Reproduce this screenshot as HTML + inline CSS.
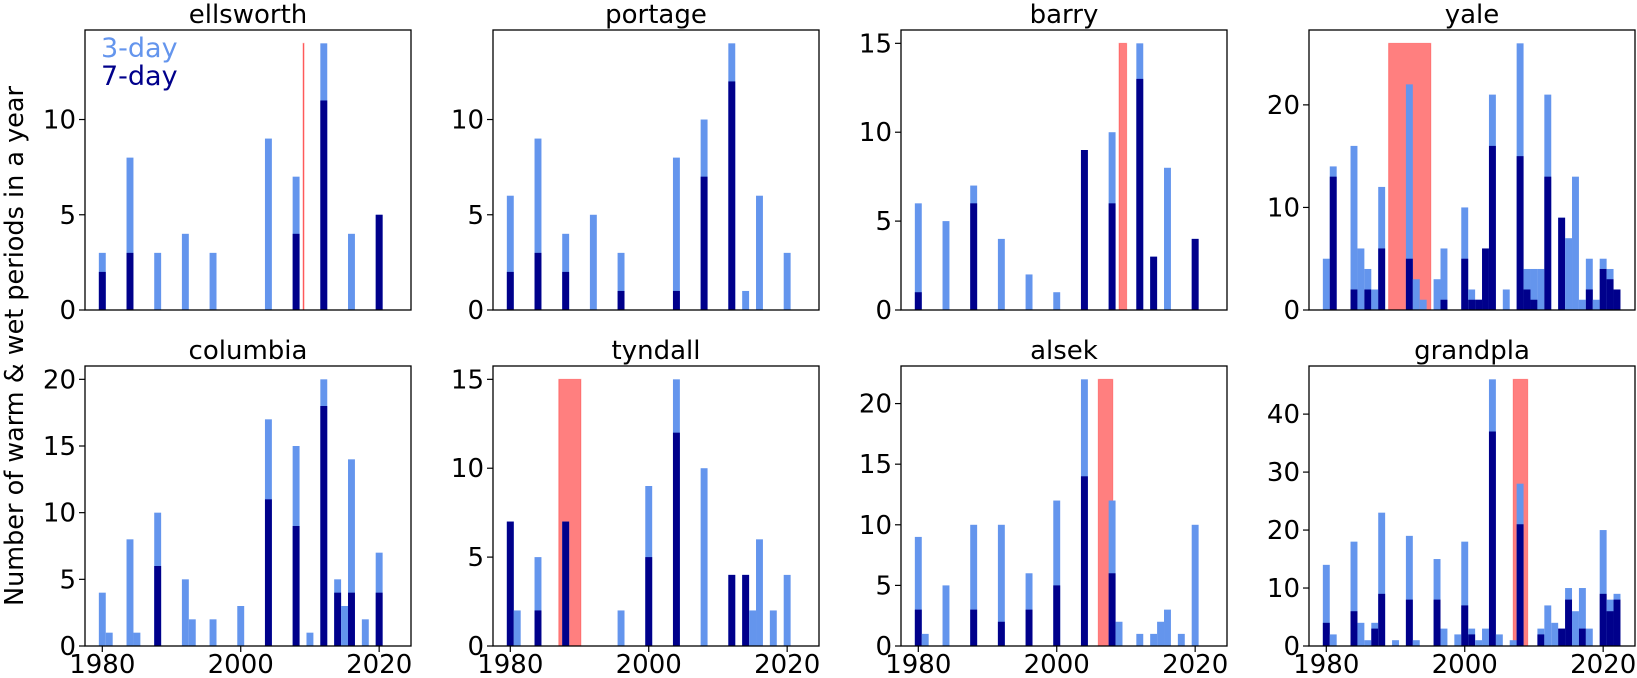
<!DOCTYPE html>
<html><head><meta charset="utf-8"><style>
html,body{margin:0;padding:0;background:#fff;}
svg{display:block;font-family:"DejaVu Sans","Liberation Sans",sans-serif;}
</style></head><body>
<svg id="fig" width="1637" height="678" viewBox="0 0 1637 678" xmlns="http://www.w3.org/2000/svg">
<text transform="translate(23,346) rotate(-90)" text-anchor="middle" font-size="25.5" fill="#000">Number of warm &amp; wet periods in a year</text>
</svg>
<script>
const panelNames = ["ellsworth","portage","barry","yale","columbia","tyndall","alsek","grandpla"];
const ellsworthYears = [1980,1984,1988,1992,1996,2004,2008,2012,2016,2020];
const ellsworth3 = [3,8,3,4,3,9,7,14,4,5];
const ellsworth7 = [2,3,0,0,0,0,4,11,0,5];
const portageYears = [1980,1984,1988,1992,1996,2004,2008,2012,2014,2016,2020];
const portage3 = [6,9,4,5,3,8,10,14,1,6,3];
const portage7 = [2,3,2,0,1,1,7,12,0,0,0];
const barryYears = [1980,1984,1988,1992,1996,2000,2004,2008,2012,2014,2016,2020];
const barry3 = [6,5,7,4,2,1,9,10,15,3,8,4];
const barry7 = [1,0,6,0,0,0,9,6,13,3,0,4];
const yaleYears = [1980,1981,1984,1985,1986,1987,1988,1992,1993,1994,1996,1997,2000,2001,2002,2003,2004,2006,2008,2009,2010,2011,2012,2014,2015,2016,2017,2018,2019,2020,2021,2022];
const yale3 = [5,14,16,6,4,2,12,22,3,1,3,6,10,2,1,6,21,2,26,4,4,4,21,9,7,13,1,5,1,5,4,2];
const yale7 = [0,13,2,0,2,0,6,5,0,0,0,1,5,1,1,6,16,0,15,2,1,0,13,9,0,0,0,2,0,4,3,2];
const columbiaYears = [1980,1981,1984,1985,1988,1992,1993,1996,2000,2004,2008,2010,2012,2014,2015,2016,2018,2020];
const columbia3 = [4,1,8,1,10,5,2,2,3,17,15,1,20,5,3,14,2,7];
const columbia7 = [0,0,0,0,6,0,0,0,0,11,9,0,18,4,0,4,0,4];
const tyndallYears = [1980,1981,1984,1988,1996,2000,2004,2008,2012,2014,2015,2016,2018,2020];
const tyndall3 = [7,2,5,7,2,9,15,10,4,4,2,6,2,4];
const tyndall7 = [7,0,2,7,0,5,12,0,4,4,0,0,0,0];
const alsekYears = [1980,1981,1984,1988,1992,1996,2000,2004,2008,2009,2012,2014,2015,2016,2018,2020];
const alsek3 = [9,1,5,10,10,6,12,22,12,2,1,1,2,3,1,10];
const alsek7 = [3,0,0,3,2,3,5,14,6,0,0,0,0,0,0,0];
const grandplaYears = [1980,1981,1984,1985,1986,1987,1988,1990,1992,1993,1996,1997,1999,2000,2001,2002,2003,2004,2005,2007,2008,2011,2012,2013,2014,2015,2016,2017,2018,2020,2021,2022];
const grandpla3 = [14,2,18,4,1,4,23,1,19,1,15,3,2,18,3,1,3,46,2,1,28,3,7,4,3,10,6,10,3,20,8,9];
const grandpla7 = [4,0,6,0,0,3,9,0,8,0,8,0,0,7,2,0,0,37,0,0,21,2,0,0,3,8,0,3,0,9,6,8];
const spanStart = [2009.0,null,2009.0,1989.0,null,1987.0,2006.0,2007.0];
const spanEnd = [2009.1,null,2010.1,1995.1,null,1990.2,2008.1,2009.1];
const yTicks = [[0,5,10],[0,5,10],[0,5,10,15],[0,10,20],[0,5,10,15,20],[0,5,10,15],[0,5,10,15,20],[0,10,20,30,40]];
const xTicks = [1980,2000,2020];

const allYears=[ellsworthYears,portageYears,barryYears,yaleYears,columbiaYears,tyndallYears,alsekYears,grandplaYears];
const all3=[ellsworth3,portage3,barry3,yale3,columbia3,tyndall3,alsek3,grandpla3];
const all7=[ellsworth7,portage7,barry7,yale7,columbia7,tyndall7,alsek7,grandpla7];

const NS="http://www.w3.org/2000/svg";
const svg=document.getElementById('fig');
function mk(tag,attrs,parent){const e=document.createElementNS(NS,tag);for(const k in attrs)e.setAttribute(k,attrs[k]);(parent||svg).appendChild(e);return e;}
const lefts=[85,493,901,1309], tops=[30,366], W=326, H=280;
const XMIN=1977.5, XMAX=2024.6;

for(let p=0;p<8;p++){
  const col=p%4,row=Math.floor(p/4);
  const L=lefts[col],T=tops[row];
  const g=mk('g',{});
  
  
  const maxV=Math.max(...all3[p],...all7[p]);
  const ymax=maxV*1.05;
  const sx=v=>L+(v-XMIN)/(XMAX-XMIN)*W;
  const sy=v=>T+H-v/ymax*H;
  if(spanStart[p]!==null){
    const r=mk('rect',{x:sx(spanStart[p]),y:sy(maxV),width:Math.max(1,sx(spanEnd[p])-sx(spanStart[p])),height:sy(0)-sy(maxV),fill:'rgba(255,0,0,0.5)',stroke:'rgba(255,0,0,0.3)','stroke-width':1},g);
    
    
  }
  allYears[p].forEach((yr,i)=>{
    const v3=all3[p][i], v7=all7[p][i];
    if(v3>0){
      const b=mk('rect',{x:sx(yr-0.5),y:sy(v3),width:sx(yr+0.5)-sx(yr-0.5),height:sy(0)-sy(v3),fill:'#6495ED'},g);
      
      
    }
    if(v7>0){
      const b=mk('rect',{x:sx(yr-0.5),y:sy(v7),width:sx(yr+0.5)-sx(yr-0.5),height:sy(0)-sy(v7),fill:'#00008B'},g);
      
      
    }
  });
  const fr=mk('rect',{x:L,y:T,width:W,height:H,fill:'none',stroke:'#000','stroke-width':1.3},g);
  
  
  yTicks[p].forEach(t=>{
    const y=sy(t);
    mk('line',{x1:L-6,x2:L,y1:y,y2:y,stroke:'#000','stroke-width':1.2},g);
    const tx=mk('text',{x:L-9,y:y+9,'text-anchor':'end','font-size':26},g);
    tx.textContent=t;
    
    
  });
  if(row===1){
    xTicks.forEach(t=>{
      const x=sx(t);
      mk('line',{x1:x,x2:x,y1:T+H,y2:T+H+6,stroke:'#000','stroke-width':1.2},g);
      const tx=mk('text',{x:x,y:T+H+27,'text-anchor':'middle','font-size':26},g);
      tx.textContent=t;
      
      
    });
  }
  const ti=mk('text',{x:L+W/2,y:T-7,'text-anchor':'middle','font-size':26},g);
  ti.textContent=panelNames[p];
  
  
}
const l1=mk('text',{x:101,y:57,'font-size':27,fill:'#6495ED'});
l1.textContent='3-day';


const l2=mk('text',{x:101,y:85,'font-size':27,fill:'#00008B'});
l2.textContent='7-day';


</script>
</body></html>
